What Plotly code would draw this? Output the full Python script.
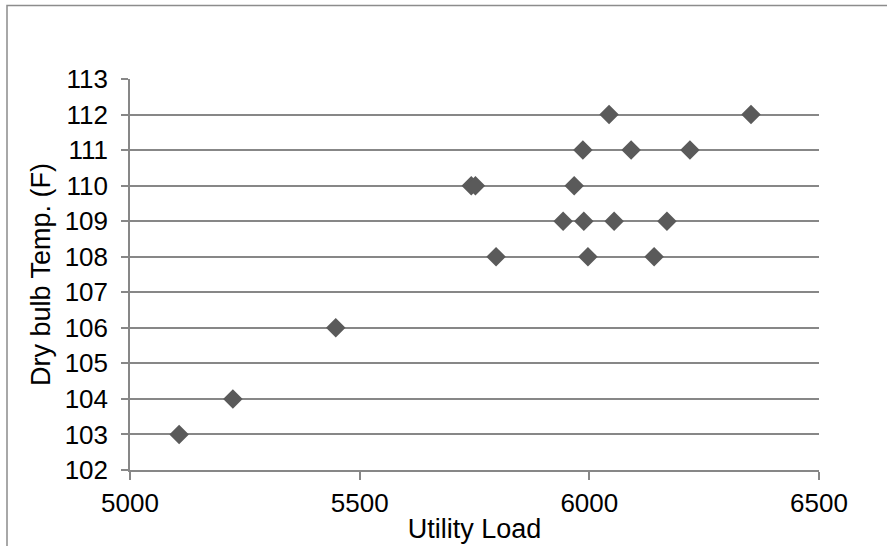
import plotly.graph_objects as go

# Utility load vs dry bulb temperature observations
utility_load = [5107, 5224, 5448, 5743, 5752, 5967, 5797, 5997, 6141,
                5943, 5988, 6054, 6169, 5986, 6091, 6219, 6043, 6352]
dry_bulb_temp = [103, 104, 106, 110, 110, 110, 108, 108, 108,
                 109, 109, 109, 109, 111, 111, 111, 112, 112]

x_ticks = [5000, 5500, 6000, 6500]
y_ticks = list(range(102, 114))

axis_grey = "#878787"
font_family = "Liberation Sans, Arial, sans-serif"

fig = go.Figure()
fig.add_trace(go.Scatter(
    x=utility_load,
    y=dry_bulb_temp,
    mode="markers",
    marker=dict(symbol="diamond", size=15, color="#5a5a5a", line=dict(width=0)),
    showlegend=False,
))

fig.update_layout(
    width=887,
    height=546,
    margin=dict(l=130, r=68, t=79, b=76),
    paper_bgcolor="white",
    plot_bgcolor="white",
    font=dict(family=font_family, size=26, color="black"),
    xaxis=dict(
        range=[5000, 6500],
        tickvals=x_ticks,
        ticks="outside",
        ticklen=8,
        tickcolor=axis_grey,
        tickwidth=1.5,
        showgrid=False,
        showline=True,
        linecolor=axis_grey,
        linewidth=1.5,
        zeroline=False,
        automargin=False,
        tickfont=dict(size=26),
        ticklabelstandoff=1,
        title=dict(text="Utility Load", font=dict(size=27), standoff=2),
    ),
    yaxis=dict(
        range=[102, 113],
        tickvals=y_ticks,
        ticks="outside",
        ticklen=7,
        tickcolor=axis_grey,
        tickwidth=1.5,
        showgrid=True,
        gridcolor=axis_grey,
        gridwidth=1.5,
        showline=True,
        linecolor=axis_grey,
        linewidth=1.5,
        zeroline=False,
        automargin=False,
        tickfont=dict(size=26),
        ticklabelstandoff=8,
        title=dict(text="Dry bulb Temp. (F)", font=dict(size=27), standoff=6),
    ),
    shapes=[dict(
        type="rect",
        xref="paper", yref="paper",
        x0=(7 - 130) / 689, x1=(895 - 130) / 689,
        y0=(470 - 555) / 391, y1=(470 - 5.5) / 391,
        line=dict(color="#8c8c8c", width=1.5),
        fillcolor="rgba(0,0,0,0)",
        layer="below",
    )],
)

fig.write_html("out.html")
